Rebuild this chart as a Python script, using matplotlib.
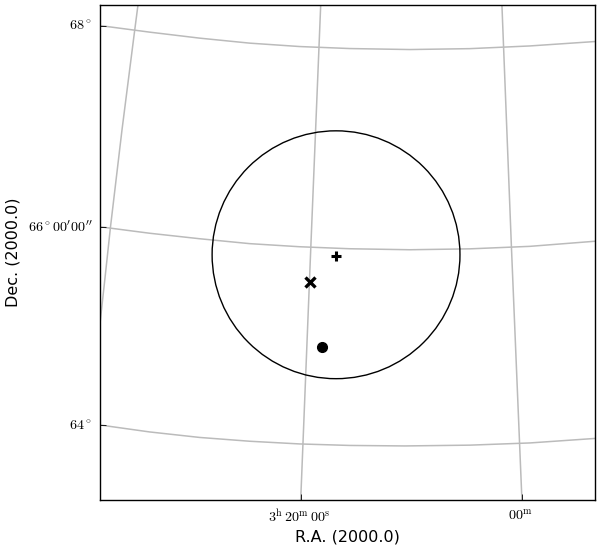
import matplotlib
matplotlib.use("Agg")
import matplotlib.pyplot as plt
from matplotlib.patches import Circle
from matplotlib.transforms import ScaledTranslation

plt.rcParams['mathtext.fontset'] = 'cm'

# grid lines, in image position of the sky plane
dec68_x = [100, 150, 200, 250, 300, 350, 410, 470, 530, 595]
dec68_y = [26, 32.6, 38.6, 43.6, 47, 49, 50, 49.1, 46.4, 42]
dec66_x = [100, 150, 200, 250, 300, 350, 410, 470, 530, 595]
dec66_y = [227, 233.5, 239, 243.9, 247, 249, 250, 249.1, 246.6, 241.5]
dec64_x = [100, 150, 200, 250, 300, 350, 405, 470, 530, 595]
dec64_y = [425, 432, 437.5, 441.3, 444, 445.5, 446, 445.2, 443, 438.5]
ra_left_x = [138.5, 135, 122.5, 111, 105.3, 100]
ra_left_y = [5, 32, 130, 227, 280, 328]
ra_mid_x = [321, 311, 301]
ra_mid_y = [5, 250, 500]
ra_right_x = [502, 511.5, 522]
ra_right_y = [5, 247, 500]

# field circle
circle_x = 336.3
circle_y = 255
circle_r = 123.8

# source positions
plus_x, plus_y = [336.5], [256]
cross_x, cross_y = [310], [282]
dot_x, dot_y = [322], [347]

# ticks
xtick_pos = [301.5, 522]
xtick_labels = [r'$3^{\mathrm{h}}\,20^{\mathrm{m}}\,00^{\mathrm{s}}$', r'$00^{\mathrm{m}}$']
ytick_pos = [26, 227, 425]
ytick_labels = [r'$68^\circ$', r"$66^\circ00^\prime00^{\prime\prime}$", r'$64^\circ$']

fig = plt.figure(figsize=(6, 5.45), dpi=100)
ax = fig.add_axes([100 / 600, 1 - 500 / 545, 495 / 600, 495 / 545])

grid_color = '#bbbbbb'
for xs, ys in [(dec68_x, dec68_y), (dec66_x, dec66_y), (dec64_x, dec64_y),
               (ra_left_x, ra_left_y), (ra_mid_x, ra_mid_y), (ra_right_x, ra_right_y)]:
    ax.plot(xs, ys, color=grid_color, linewidth=1.1, zorder=1)

ax.add_patch(Circle((circle_x, circle_y), circle_r, fill=False, edgecolor='black', linewidth=1.0, zorder=2))

ax.plot(plus_x, plus_y, marker='+', color='black', markersize=7.5, markeredgewidth=2.2, linestyle='none', zorder=3)
ax.plot(cross_x, cross_y, marker='x', color='black', markersize=7.5, markeredgewidth=2.4, linestyle='none', zorder=3)
ax.plot(dot_x, dot_y, marker='o', color='black', markersize=7, linestyle='none', zorder=3)

ax.set_xlim(100.5, 595)
ax.set_ylim(500, 5.5)
ax.set_xticks(xtick_pos)
ax.set_xticklabels(xtick_labels, fontsize=10.2)
ax.set_yticks(ytick_pos)
ax.set_yticklabels(ytick_labels, fontsize=10.2)
ax.tick_params(direction='in', length=4, width=0.6)
ax.tick_params(axis='x', pad=6)
ax.tick_params(axis='y', pad=5.5)
for lab in ax.get_xticklabels():
    lab.set_transform(lab.get_transform() + ScaledTranslation(-1.5 / 100, 0, fig.dpi_scale_trans))
for lab in ax.get_yticklabels():
    lab.set_transform(lab.get_transform() + ScaledTranslation(0, 1 / 100, fig.dpi_scale_trans))

ax.set_xlabel('R.A. (2000.0)', fontsize=11.5, labelpad=3)
ax.set_ylabel('Dec. (2000.0)', fontsize=11.5, labelpad=5.5)
for s in ax.spines.values():
    s.set_linewidth(1.0)

fig.savefig('out.png', dpi=100)
